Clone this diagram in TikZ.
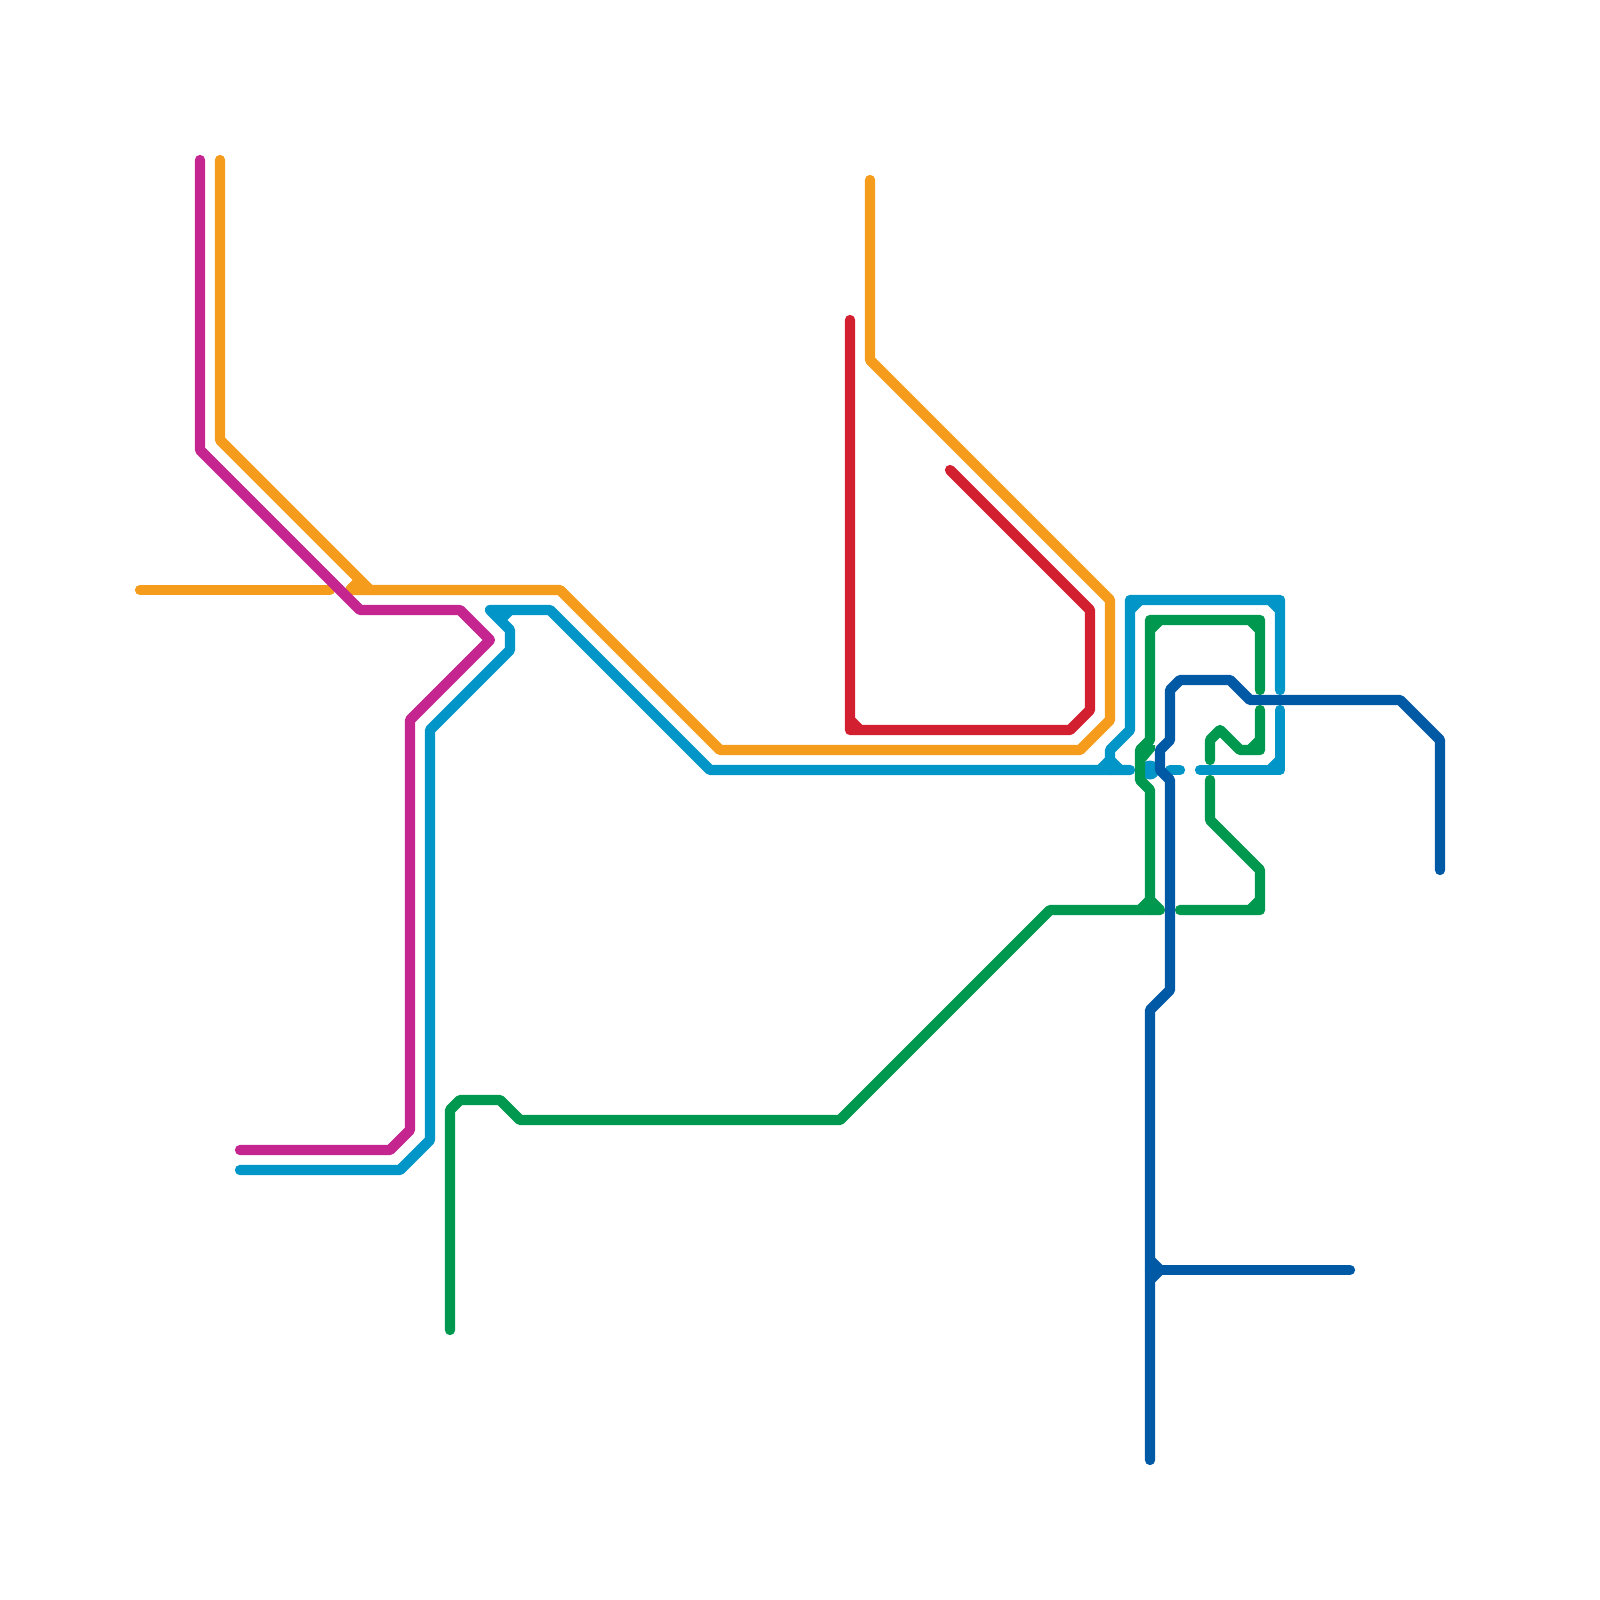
\documentclass[tikz,border=0pt]{standalone}
\definecolor{lineorange}{HTML}{F59C1C}
\definecolor{linered}{HTML}{D22030}
\definecolor{linemagenta}{HTML}{C4258F}
\definecolor{lineblue}{HTML}{0296C8}
\definecolor{linegreen}{HTML}{00984E}
\definecolor{linenavy}{HTML}{0059A5}
\begin{document}
\begin{tikzpicture}[x=.01cm,y=-.01cm,
        route/.style={line width=.103cm,line cap=round,line join=round},
        spur/.style={line width=.103cm,line cap=butt}]
        \useasboundingbox (0,0) rectangle (1600,1600);

        % orange
        \draw[route,lineorange] (220,160) -- (220,440) -- (370,590);
        \draw[route,lineorange] (140,590) -- (330,590);
        \draw[route,lineorange] (350,590) -- (560,590) -- (720,750) -- (1080,750) -- (1110,720) -- (1110,600) -- (870,360) -- (870,180);
        \draw[spur,lineorange] (350,590) -- (360,580);

        % magenta
        \draw[route,linemagenta] (200,160) -- (200,450) -- (360,610) -- (460,610) -- (490,640) -- (410,720) -- (410,1130) -- (390,1150) -- (240,1150);

        % red
        \draw[route,linered] (850,320) -- (850,730) -- (1070,730) -- (1090,710) -- (1090,610) -- (950,470);
        \draw[spur,linered] (850,720) -- (860,730);

        % blue
        \draw[route,lineblue] (240,1170) -- (400,1170) -- (430,1140) -- (430,730) -- (510,650) -- (510,630) -- (490,610) -- (550,610) -- (710,770) -- (1130,770);
        \draw[route,lineblue] (1110,770) -- (1110,750) -- (1130,730) -- (1130,600) -- (1280,600) -- (1280,690);
        \draw[route,lineblue] (1170,770) -- (1180,770);
        \draw[route,lineblue] (1200,770) -- (1280,770) -- (1280,710);
        \fill[lineblue] (1150,770) circle (.095cm);
        \foreach \a/\b/\c/\d in {500/620/510/610,1100/770/1110/760,1110/760/1120/770,1130/610/1140/600,1270/600/1280/610,1270/770/1280/760}
            {\draw[spur,lineblue] (\a,\b) -- (\c,\d);}

        % green
        \draw[route,linegreen] (450,1330) -- (450,1110) -- (460,1100) -- (500,1100) -- (520,1120) -- (840,1120) -- (1050,910) -- (1160,910);
        \draw[route,linegreen] (1150,910) -- (1150,790) -- (1140,780) -- (1140,750) -- (1150,740) -- (1150,620) -- (1260,620) -- (1260,690);
        \draw[route,linegreen] (1260,710) -- (1260,750) -- (1240,750) -- (1220,730) -- (1210,740) -- (1210,760);
        \draw[route,linegreen] (1210,780) -- (1210,820) -- (1260,870) -- (1260,910) -- (1180,910);
        \fill[linegreen] (1145,745) -- (1155,745) -- (1155,750) -- (1145,762) -- cycle;
        \foreach \a/\b/\c/\d in {1140/910/1150/900,1150/900/1160/910,1150/630/1160/620,1250/620/1260/630,1250/750/1260/740,1250/910/1260/900}
            {\draw[spur,linegreen] (\a,\b) -- (\c,\d);}

        % navy
        \draw[route,linenavy] (1150,1460) -- (1150,1010) -- (1170,990) -- (1170,780) -- (1160,770) -- (1160,750) -- (1170,740) -- (1170,690) -- (1180,680) -- (1230,680) -- (1250,700) -- (1400,700) -- (1440,740) -- (1440,870);
        \draw[route,linenavy] (1150,1270) -- (1350,1270);
        \foreach \a/\b/\c/\d in {1150/1260/1160/1270,1150/1280/1160/1270}
            {\draw[spur,linenavy] (\a,\b) -- (\c,\d);}
    \end{tikzpicture}
\end{document}
